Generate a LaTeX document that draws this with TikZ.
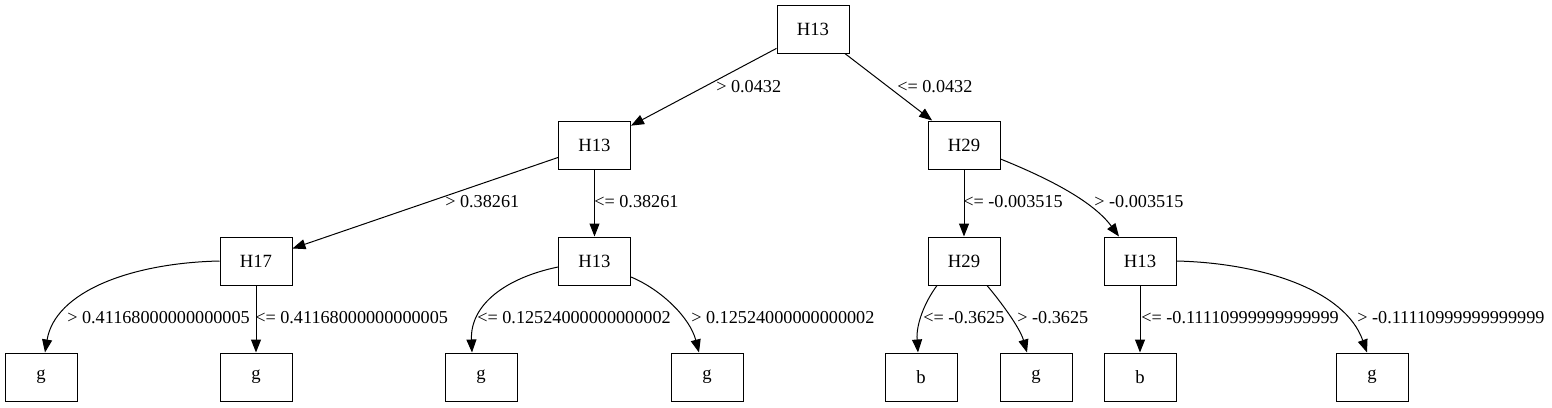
\documentclass[tikz,border=0pt]{standalone}
\usepackage{fontspec}
\setmainfont{Liberation Serif}
\usetikzlibrary{arrows.meta}
\tikzset{
  box/.style={draw=black, line width=0.75pt, minimum width=54pt, minimum height=36pt, inner sep=0pt, font=\fontsize{14pt}{16pt}\selectfont},
  conn/.style={line width=0.75pt, -{Triangle[length=9.75pt,width=7.5pt]}},
  lab/.style={anchor=west, inner sep=0pt, font=\fontsize{13.65pt}{16pt}\selectfont}
}
\begin{document}
\begin{tikzpicture}[x=0.75pt, y=-0.75pt]
\useasboundingbox (0,0) rectangle (1552,407);
% nodes
\node[box] (root) at (813,29) {H13};
\node[box] (A) at (594.5,145) {H13};
\node[box] (B) at (964,145) {H29};
\node[box] (C) at (256,261) {H17};
\node[box] (D) at (594.5,261) {H13};
\node[box] (E) at (964,261) {H29};
\node[box] (F) at (1140,261) {H13};
\node[box] (g1) at (41,377) {g};
\node[box] (g2) at (256,377) {g};
\node[box] (g3) at (481,377) {g};
\node[box] (g4) at (707,377) {g};
\node[box] (b1) at (921,377) {b};
\node[box] (g5) at (1036,377) {g};
\node[box] (b2) at (1140,377) {b};
\node[box] (g6) at (1372,377) {g};
% edges
\draw[conn] (root) -- (A);
\draw[conn] (root) -- (B);
\draw[conn] (A) -- (C);
\draw[conn] (A) -- (D);
\draw[conn] (B) -- (E);
\draw[conn] ([yshift=-10.5pt]B.east) .. controls (1045,177) and (1092,200) .. ([xshift=-15.75pt]F.north);
\draw[conn] (C.west) .. controls (130,263) and (55,292) .. ([xshift=3pt]g1.north);
\draw[conn] (C) -- (g2);
\draw[conn] ([yshift=-4.5pt]D.west) .. controls (505,278) and (470,305) .. ([xshift=-6.75pt]g3.north);
\draw[conn] ([yshift=-12pt]D.east) .. controls (662,290) and (690,318) .. ([xshift=-6pt]g4.north);
\draw[conn] ([xshift=-20.25pt]E.south) .. controls (924,303) and (916,325) .. ([xshift=-2.25pt]b1.north);
\draw[conn] ([xshift=17.25pt]E.south) .. controls (1001,302) and (1020,328) .. ([xshift=-6.75pt]g5.north);
\draw[conn] (F) -- (b2);
\draw[conn] (F.east) .. controls (1262,263) and (1345,290) .. ([xshift=-3.75pt]g6.north);
% labels
\node[lab] (l1) at (716,87) {> 0.0432};
\node[lab] (l2) at (897,87) {<= 0.0432};
\node[lab] (l3) at (445,202) {> 0.38261};
\node[lab] (l4) at (594,202) {<= 0.38261};
\node[lab] (l5) at (963,202) {<= -0.003515};
\node[lab] (l6) at (1094,202) {> -0.003515};
\node[lab] (l7) at (67,318) {> 0.41168000000000005};
\node[lab] (l8) at (255,318) {<= 0.41168000000000005};
\node[lab] (l9) at (477,318) {<= 0.12524000000000002};
\node[lab] (l10) at (691,318) {> 0.12524000000000002};
\node[lab] (l11) at (923,318) {<= -0.3625};
\node[lab] (l12) at (1017,318) {> -0.3625};
\node[lab] (l13) at (1141,318) {<= -0.11110999999999999};
\node[lab] (l14) at (1357,318) {> -0.11110999999999999};
\end{tikzpicture}
\end{document}
